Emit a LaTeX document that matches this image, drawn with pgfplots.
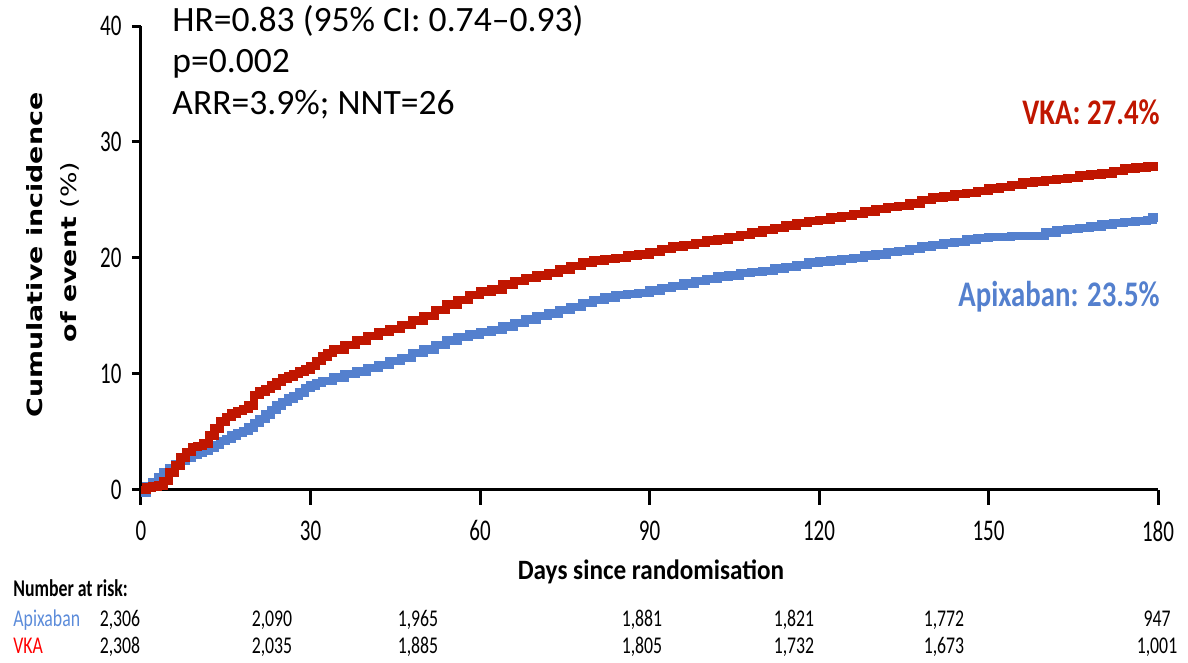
\documentclass[border=0pt]{standalone}
\usepackage{fontspec}
\setmainfont{Carlito}
\newfontfamily\tickfont[FakeStretch=0.7]{Carlito}
\newfontfamily\riskfont[FakeStretch=0.74]{Carlito}
\newfontfamily\endfont[FakeStretch=0.8]{Carlito}
\newfontfamily\xlabfont[FakeStretch=0.9]{Carlito}
\newfontfamily\ylabfont[FakeStretch=1.28]{DejaVu Sans}
\usepackage{pgfplots}
\usepackage{pgfplotstable}
\pgfplotsset{compat=1.18}

\definecolor{vkared}{RGB}{192,22,0}
\definecolor{apixblue}{RGB}{84,128,206}
\definecolor{riskred}{RGB}{255,0,0}
\definecolor{riskblue}{RGB}{92,140,218}

% Kaplan-Meier cumulative incidence (%), by day since randomisation
\pgfplotstableread{
day inc
0 0
1 0.2
2 0.3
3 0.4
4 0.8
5 1.5
6 2.1
7 2.8
8 3.3
9 3.7
10 3.8
11 4.0
12 4.7
13 5.3
14 5.9
15 6.3
16 6.6
17 6.8
18 7.0
19 7.3
20 8.2
21 8.5
22 8.7
23 9.0
24 9.3
25 9.6
26 9.8
27 10.0
28 10.2
29 10.4
30 10.7
31 11.1
32 11.5
33 11.8
34 12.1
36 12.5
38 12.9
40 13.3
42 13.6
44 13.9
46 14.2
48 14.6
50 15.0
52 15.5
54 16.0
56 16.4
58 16.8
60 17.1
62 17.3
64 17.7
66 18.0
68 18.3
70 18.5
72 18.7
74 19.0
76 19.3
78 19.6
80 19.8
82 19.9
84 20.0
86 20.2
88 20.3
90 20.5
92 20.8
94 21.0
96 21.1
98 21.3
100 21.5
102 21.6
104 21.8
106 22.0
108 22.2
110 22.4
112 22.6
114 22.8
116 23.0
118 23.2
120 23.3
122 23.5
124 23.6
126 23.8
128 24.0
130 24.2
132 24.4
134 24.5
136 24.7
138 25.0
140 25.2
142 25.3
144 25.5
146 25.6
148 25.8
150 26.0
152 26.1
154 26.3
156 26.5
158 26.6
160 26.7
162 26.8
164 26.9
166 27.1
168 27.2
170 27.3
172 27.5
174 27.7
176 27.8
178 27.9
180 27.9
}\vkadata

\pgfplotstableread{
day inc
0 -0.2
1 0.3
2 0.7
3 1.1
4 1.5
5 1.9
6 2.2
7 2.5
8 2.8
9 3.0
10 3.2
11 3.4
12 3.6
13 3.9
14 4.2
15 4.4
16 4.7
17 4.9
18 5.1
19 5.4
20 5.8
21 6.1
22 6.5
23 6.9
24 7.3
25 7.6
26 7.9
27 8.1
28 8.4
29 8.8
30 9.0
31 9.2
32 9.4
34 9.7
36 10.0
38 10.2
40 10.5
42 10.8
44 11.1
46 11.4
48 11.8
50 12.1
52 12.5
54 12.9
56 13.2
58 13.4
60 13.6
62 13.8
64 14.1
66 14.4
68 14.7
70 15.0
72 15.2
74 15.5
76 15.8
78 16.1
80 16.4
82 16.6
84 16.8
86 16.9
88 17.0
90 17.2
92 17.4
94 17.6
96 17.8
98 18.0
100 18.2
102 18.4
104 18.5
106 18.7
108 18.8
110 18.9
112 19.1
114 19.2
116 19.4
118 19.6
120 19.7
122 19.8
124 19.9
126 20.0
128 20.2
130 20.3
132 20.5
134 20.6
136 20.8
138 21.0
140 21.1
142 21.3
144 21.4
146 21.6
148 21.7
150 21.8
152 21.8
154 21.9
156 21.9
158 21.9
160 22.2
162 22.4
164 22.5
166 22.6
168 22.7
170 22.9
172 23.0
174 23.1
176 23.2
178 23.3
179 23.5
180 23.5
}\apixdata

\begin{document}
\begin{tikzpicture}
\useasboundingbox (-70.5pt,-86.5pt) rectangle (523.5pt,245pt);
\begin{axis}[
  at={(0pt,0pt)}, anchor=south west,
  scale only axis, width=508.5pt, height=232pt,
  xmin=0, xmax=180, ymin=0, ymax=40,
  axis x line=bottom, axis y line=left,
  axis line style={line width=1.5pt, -},
  xtick={0,30,...,180}, ytick={0,10,...,40},
  tick align=outside,
  tick style={line width=1.5pt, black},
  x tick style={/pgfplots/major tick length=7.5pt},
  y tick style={/pgfplots/major tick length=4.5pt},
  ticklabel style={font=\tickfont\fontsize{15}{15}\selectfont},
  xticklabel style={yshift=-7.5pt},
  yticklabel style={xshift=-2pt},
  /pgf/number format/assume math mode=true,
  clip=false,
]
\addplot[const plot, apixblue, line width=4.2pt] table[x=day, y=inc] {\apixdata};
\addplot[const plot, vkared, line width=4.2pt] table[x=day, y=inc] {\vkadata};
\end{axis}

% statistics
\begin{scope}[every node/.style={anchor=base west, inner sep=0pt, font=\fontsize{17.8}{17.8}\selectfont}]
\node at (15.5pt,229pt) {HR=0.83 (95\% CI: 0.74--0.93)};
\node at (15.5pt,208.5pt) {p=0.002};
\node at (15.5pt,187.5pt) {ARR=3.9\%; NNT=26};
\end{scope}

% end-of-curve labels
\node[anchor=base east, inner sep=0pt, text=vkared, font=\endfont\bfseries\fontsize{18}{18}\selectfont] at (509.5pt,182.5pt) {VKA: 27.4\%};
\node[anchor=base east, inner sep=0pt, text=apixblue, font=\endfont\bfseries\fontsize{18}{18}\selectfont] at (509.5pt,91.5pt) {Apixaban: 23.5\%};

% axis titles
\node[anchor=base, inner sep=0pt, font=\xlabfont\bfseries\fontsize{14}{14}\selectfont] at (255pt,-45pt) {Days since randomisation};
\node[anchor=base, rotate=90, inner sep=0pt, font=\ylabfont\bfseries\fontsize{10.5}{10.5}\selectfont] at (-49pt,117.5pt) {Cumulative incidence};
\node[anchor=base, rotate=90, inner sep=0pt, font=\ylabfont\fontsize{10.5}{10.5}\selectfont] at (-32pt,119pt) {{\bfseries of event} (\%)};

% number at risk
\begin{scope}[every node/.style={inner sep=0pt, font=\riskfont\fontsize{12}{12}\selectfont}]
\node[anchor=base west, font=\riskfont\bfseries\fontsize{12}{12}\selectfont] at (-64pt,-53.5pt) {Number at risk:};
\node[anchor=base west, text=riskblue] at (-64pt,-68.5pt) {Apixaban};
\node[anchor=base west, text=riskred] at (-64pt,-81.5pt) {VKA};
\node[anchor=base] at (-10.5pt,-68.5pt) {2,306};
\node[anchor=base] at (65.5pt,-68.5pt) {2,090};
\node[anchor=base] at (138.5pt,-68.5pt) {1,965};
\node[anchor=base] at (250.5pt,-68.5pt) {1,881};
\node[anchor=base] at (326.5pt,-68.5pt) {1,821};
\node[anchor=base] at (401.5pt,-68.5pt) {1,772};
\node[anchor=base] at (508pt,-68.5pt) {947};
\node[anchor=base] at (-10.5pt,-81.5pt) {2,308};
\node[anchor=base] at (65.5pt,-81.5pt) {2,035};
\node[anchor=base] at (138.5pt,-81.5pt) {1,885};
\node[anchor=base] at (250.5pt,-81.5pt) {1,805};
\node[anchor=base] at (326.5pt,-81.5pt) {1,732};
\node[anchor=base] at (401.5pt,-81.5pt) {1,673};
\node[anchor=base] at (508pt,-81.5pt) {1,001};
\end{scope}
\end{tikzpicture}
\end{document}
